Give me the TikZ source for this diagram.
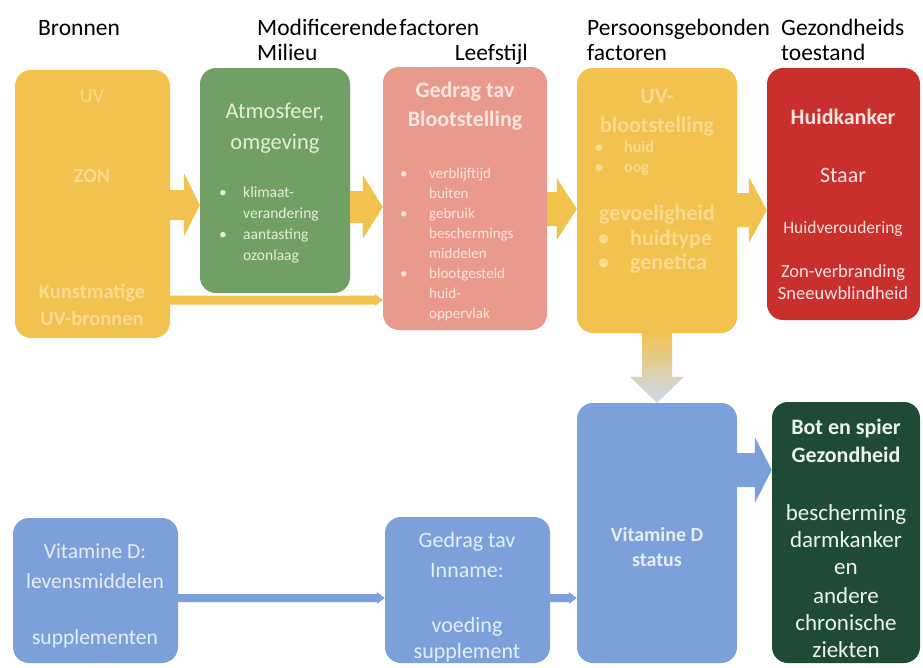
\documentclass[tikz,border=0pt]{standalone}
\usepackage{fontspec}
\setmainfont{Carlito}
\usetikzlibrary{calc}
\definecolor{cyel}{HTML}{F2C24F}
\definecolor{cyeltx}{HTML}{F8DB90}
\definecolor{cgrn}{HTML}{71A064}
\definecolor{cgrntx}{HTML}{E6EEDA}
\definecolor{cpink}{HTML}{E99A8D}
\definecolor{cpinktx}{HTML}{FBE5DF}
\definecolor{cred}{HTML}{C9302D}
\definecolor{credtx}{HTML}{FBE3DF}
\definecolor{cblue}{HTML}{7CA0D9}
\definecolor{cbluetx}{HTML}{E7EEF9}
\definecolor{cltblue}{HTML}{CBDAF1}
\definecolor{cdkg}{HTML}{1F4A36}
\definecolor{cdkgtx}{HTML}{EDF3EE}
\newcommand\fsz[1]{\fontsize{#1}{#1}\selectfont}
\newcommand\blockarrow[6]{\fill[#6] ($(#1)+(0,-#3)$) -- ($(#2)+(-#5,-#3)$) -- ($(#2)+(-#5,-#4)$) -- (#2) -- ($(#2)+(-#5,#4)$) -- ($(#2)+(-#5,#3)$) -- ($(#1)+(0,#3)$) -- cycle;}
\begin{document}
\begin{tikzpicture}[x=1pt,y=-1pt,
  box/.style={rounded corners=16pt, inner sep=0pt, draw=none},
  tx/.style={anchor=base, inner sep=0pt},
  tw/.style={anchor=base west, inner sep=0pt},
  te/.style={anchor=base east, inner sep=0pt},
  hdr/.style={tw, font=\fsz{23.5}, text=black}]
\useasboundingbox (0,0) rectangle (923,667);
\fill[white] (0,0) rectangle (923,667);

% headers
\node[hdr] (h1) at (38,35) {Bronnen};
\node[hdr] (h2) at (257,35) {Modificerende\hspace{2pt}factoren};
\node[hdr] (h3) at (257,60) {Milieu};
\node[hdr, anchor=base east] (h4) at (528,60) {Leefstijl};
\node[hdr] (h5) at (587,35) {Persoonsgebonden};
\node[hdr] (h6) at (587,60) {factoren};
\node[hdr] (h7) at (781,35) {Gezondheids};
\node[hdr] (h8) at (781,60) {toestand};

% boxes
\node[box, fill=cyel, minimum width=155pt, minimum height=268pt] (uv) at (92.5,204) {};
\node[box, fill=cgrn, minimum width=150pt, minimum height=225pt] (atm) at (275,180.5) {};
\node[box, fill=cpink, minimum width=164pt, minimum height=263pt] (leef) at (465,198.5) {};
\node[box, fill=cyel, minimum width=160pt, minimum height=265pt] (pers) at (657,200.5) {};
\node[box, fill=cred, minimum width=153pt, minimum height=252pt] (gez) at (843.5,194) {};
\node[box, fill=cblue, minimum width=165pt, minimum height=145pt] (vitd) at (95.5,590.5) {};
\node[box, fill=cblue, minimum width=165pt, minimum height=146pt] (inn) at (467.5,590) {};
\node[box, fill=cblue, minimum width=160pt, minimum height=260pt] (stat) at (657,533) {};
\node[box, fill=cdkg, minimum width=148pt, minimum height=261pt] (bot) at (846,532.5) {};

% block arrows
\coordinate (a1s) at (uv.east |- 0,205);  \coordinate (a1t) at (atm.west |- 0,205);
\coordinate (a2s) at (atm.east |- 0,207); \coordinate (a2t) at (leef.west |- 0,207);
\coordinate (a3s) at (leef.east |- 0,209); \coordinate (a3t) at (pers.west |- 0,209);
\coordinate (a4s) at (pers.east |- 0,210); \coordinate (a4t) at (gez.west |- 0,210);
\coordinate (a5s) at (uv.east |- 0,300);  \coordinate (a5t) at (leef.west |- 0,300);
\coordinate (a7s) at (stat.east |- 0,470); \coordinate (a7t) at (bot.west |- 0,470);
\coordinate (a8s) at (vitd.east |- 0,598); \coordinate (a8t) at (inn.west |- 0,598);
\coordinate (a9s) at (inn.east |- 0,598);  \coordinate (a9t) at (stat.west |- 0,598);
\blockarrow{a1s}{a1t}{15}{32}{16}{cyel}
\blockarrow{a2s}{a2t}{16}{32}{20}{cyel}
\blockarrow{a3s}{a3t}{17}{31}{20}{cyel}
\blockarrow{a4s}{a4t}{17}{33}{18}{cyel}
\blockarrow{a5s}{a5t}{4.5}{6}{8}{cyel}
\blockarrow{a7s}{a7t}{17}{33}{17}{cblue}
\blockarrow{a8s}{a8t}{4}{6}{8}{cblue}
\blockarrow{a9s}{a9t}{4}{6}{8}{cblue}
% down arrow
\coordinate (dS) at (pers.south); \coordinate (dT) at (stat.north);
\shade[top color=cyel, bottom color=cltblue]
  ($(dS)+(-15,-1)$) -- ($(dT)+(-15,-26)$) -- ($(dT)+(-27,-26)$) -- (dT) -- ($(dT)+(27,-26)$) -- ($(dT)+(15,-26)$) -- ($(dS)+(15,-1)$) -- cycle;

% UV box text
\begin{scope}[every node/.style={text=cyeltx}]
\node[tx, font=\fsz{20}] (t11) at (92,102) {UV};
\node[tx, font=\fsz{20}\bfseries] (t12) at (92,182) {ZON};
\node[tx, font=\fsz{20.5}\bfseries] (t13) at (92,298) {Kunstmatige};
\node[tx, font=\fsz{20.5}\bfseries] (t14) at (92,325) {UV-bronnen};
\end{scope}

% green box text
\begin{scope}[every node/.style={text=cgrntx}]
\node[tx, font=\fsz{22.5}] (t21) at (275,118) {Atmosfeer,};
\node[tx, font=\fsz{22.5}] (t22) at (275,149) {omgeving};
\node[tw, font=\fsz{15.5}] (b21) at (219,197) {\textbullet};
\node[tw, font=\fsz{15.5}] (t23) at (243,197) {klimaat-};
\node[tw, font=\fsz{15.5}] (t24) at (243,218) {verandering};
\node[tw, font=\fsz{15.5}] (b22) at (219,239) {\textbullet};
\node[tw, font=\fsz{15.5}] (t25) at (243,239) {aantasting};
\node[tw, font=\fsz{15.5}] (t26) at (243,260) {ozonlaag};
\end{scope}

% pink box text
\begin{scope}[every node/.style={text=cpinktx}]
\node[tx, font=\fsz{22}\bfseries] (t31) at (465,97) {Gedrag tav};
\node[tx, font=\fsz{22}\bfseries] (t32) at (465,126) {Blootstelling};
\node[tw, font=\fsz{15}] (b31) at (400,178) {\textbullet};
\node[tw, font=\fsz{15}] (t33) at (429,178) {verblijftijd};
\node[tw, font=\fsz{15}] (t34) at (429,198) {buiten};
\node[tw, font=\fsz{15}] (b32) at (400,218) {\textbullet};
\node[tw, font=\fsz{15}] (t35) at (429,218) {gebruik};
\node[tw, font=\fsz{15}] (t36) at (429,238) {beschermings};
\node[tw, font=\fsz{15}] (t37) at (429,258) {middelen};
\node[tw, font=\fsz{15}] (b33) at (400,278) {\textbullet};
\node[tw, font=\fsz{15}] (t38) at (429,278) {blootgesteld};
\node[tw, font=\fsz{15}] (t39) at (429,298) {huid-};
\node[tw, font=\fsz{15}] (t30) at (429,318) {oppervlak};
\end{scope}

% persoonsgebonden box text
\begin{scope}[every node/.style={text=cyeltx}]
\node[tx, font=\fsz{22}\bfseries] (t41) at (657,103) {UV-};
\node[tx, font=\fsz{22}\bfseries] (t42) at (657,132) {blootstelling};
\node[tw, font=\fsz{16}\bfseries] (b41) at (595,152) {\textbullet};
\node[tw, font=\fsz{16}\bfseries] (t43) at (624,152) {huid};
\node[tw, font=\fsz{16}\bfseries] (b42) at (595,172) {\textbullet};
\node[tw, font=\fsz{16}\bfseries] (t44) at (624,172) {oog};
\node[tx, font=\fsz{22}\bfseries] (t45) at (657,220) {gevoeligheid};
\node[tw, font=\fsz{22}\bfseries] (b43) at (598,245) {\textbullet};
\node[tw, font=\fsz{22}\bfseries] (t46) at (630,245) {huidtype};
\node[tw, font=\fsz{22}\bfseries] (b44) at (598,269) {\textbullet};
\node[tw, font=\fsz{22}\bfseries] (t47) at (630,269) {genetica};
\end{scope}

% red box text
\begin{scope}[every node/.style={text=credtx}]
\node[tx, font=\fsz{22}\bfseries] (t51) at (843,124) {Huidkanker};
\node[tx, font=\fsz{22}] (t52) at (843,182) {Staar};
\node[tx, font=\fsz{17.5}] (t53) at (843,233) {Huidveroudering};
\node[tx, font=\fsz{18.5}] (t54) at (843,277) {Zon-verbranding};
\node[tx, font=\fsz{18.5}] (t55) at (843,299) {Sneeuwblindheid};
\end{scope}

% blue boxes text
\begin{scope}[every node/.style={text=cbluetx}]
\node[tx, font=\fsz{21.5}] (t61) at (95,558) {Vitamine D:};
\node[tx, font=\fsz{21.5}] (t62) at (95,588) {levensmiddelen};
\node[tx, font=\fsz{21.5}] (t63) at (95,644) {supplementen};
\node[tx, font=\fsz{22}] (t71) at (467,547) {Gedrag tav};
\node[tx, font=\fsz{22}] (t72) at (467,577) {Inname:};
\node[tx, font=\fsz{22}] (t73) at (467,632) {voeding};
\node[tx, font=\fsz{22}] (t74) at (467,658) {supplement};
\node[tx, font=\fsz{20}\bfseries] (t81) at (657,541) {Vitamine D};
\node[tx, font=\fsz{20}\bfseries] (t82) at (657,566) {status};
\end{scope}

% dark green box text
\begin{scope}[every node/.style={text=cdkgtx}]
\node[tx, font=\fsz{22}\bfseries] (t91) at (846,434) {Bot en spier};
\node[tx, font=\fsz{22}\bfseries] (t92) at (846,462) {Gezondheid};
\node[tx, font=\fsz{23}] (t93) at (846,520) {bescherming};
\node[tx, font=\fsz{23}] (t94) at (846,547) {darmkanker};
\node[tx, font=\fsz{23}] (t95) at (846,574) {en};
\node[tx, font=\fsz{23}] (t96) at (846,603) {andere};
\node[tx, font=\fsz{23}] (t97) at (846,630) {chronische};
\node[tx, font=\fsz{23}] (t98) at (846,657) {ziekten};
\end{scope}
\end{tikzpicture}
\end{document}
